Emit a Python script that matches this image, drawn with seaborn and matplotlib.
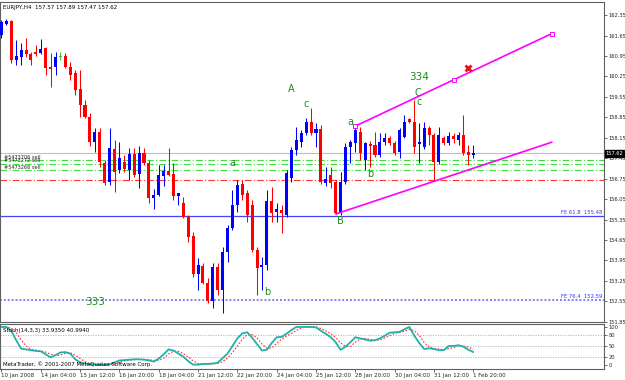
import numpy as np
import pandas as pd
import seaborn as sns
import matplotlib.pyplot as plt
import matplotlib.transforms as mtransforms

sns.set_style("white")
plt.rcParams['font.family'] = ['DejaVu Sans']

# EURJPY H4 candles, bar 0 = 10 Jan 2008 20:00, bar 96 = 1 Feb 20:00
opens = [161.67, 162.04, 162.14, 160.81, 160.91, 161.15, 161.01, 161.08, 161.05, 161.22,
         160.57, 160.57, 160.93, 160.95, 160.57, 160.36, 159.82, 159.27, 158.86, 158.00,
         158.34, 157.28, 156.63, 157.76, 157.04, 157.32, 157.04, 157.59, 156.91, 157.62,
         157.28, 156.08, 156.19, 156.84, 157.01, 156.91, 156.15, 155.91, 155.43, 154.78,
         153.48, 153.77, 153.17, 152.56, 153.72, 152.93, 154.23, 155.06, 155.84, 156.56,
         156.25, 155.84, 154.30, 153.72, 153.79, 155.98, 155.60, 155.67, 155.50, 156.77,
         157.73, 158.00, 158.31, 158.69, 158.31, 158.45, 156.60, 156.87, 156.63, 155.57,
         156.63, 157.83, 157.97, 158.34, 157.39, 157.93, 157.90, 157.56, 158.00, 158.14,
         157.97, 157.66, 158.17, 158.79, 158.69, 157.93, 157.83, 158.48, 158.24, 157.32,
         158.14, 157.97, 158.21, 158.07, 158.24, 157.66, 157.57]
highs = [162.18, 162.21, 162.18, 161.49, 161.39, 161.56, 161.08, 161.32, 161.53, 161.26,
         161.05, 161.08, 161.08, 161.05, 160.74, 160.47, 160.47, 159.44, 159.00, 158.48,
         158.48, 157.39, 158.48, 158.07, 158.00, 157.56, 157.80, 157.80, 157.86, 157.80,
         157.39, 156.39, 157.21, 157.21, 157.80, 157.28, 156.25, 156.12, 155.50, 154.92,
         154.03, 153.86, 153.34, 153.86, 153.86, 154.41, 155.16, 156.36, 156.70, 156.70,
         156.36, 156.01, 154.41, 154.06, 156.36, 156.46, 155.91, 155.84, 157.04, 157.83,
         158.52, 158.41, 158.82, 159.17, 158.65, 158.58, 157.14, 157.14, 156.70, 156.97,
         157.97, 158.07, 158.58, 158.52, 158.00, 158.04, 158.34, 158.31, 158.31, 158.21,
         158.04, 158.48, 158.93, 158.82, 159.44, 158.65, 158.69, 158.55, 158.31, 158.52,
         158.21, 158.34, 158.31, 158.34, 158.93, 157.90, 157.89]
lows = [161.56, 162.01, 160.71, 160.64, 160.64, 160.91, 160.64, 160.95, 161.01, 160.30,
        159.88, 160.30, 160.81, 160.54, 160.12, 159.61, 158.86, 158.82, 157.86, 157.66,
        157.14, 156.53, 156.53, 156.29, 156.94, 156.97, 156.70, 156.80, 156.43, 157.21,
        155.91, 155.71, 156.15, 156.50, 156.84, 156.01, 155.84, 155.40, 154.58, 153.38,
        152.93, 153.14, 152.49, 152.32, 152.76, 152.15, 153.89, 154.99, 155.60, 156.01,
        155.26, 154.23, 152.76, 152.93, 153.62, 155.26, 155.26, 154.88, 155.43, 156.63,
        157.56, 157.83, 158.24, 158.24, 157.83, 156.56, 156.50, 156.43, 155.54, 155.50,
        156.56, 157.28, 157.66, 157.39, 157.04, 157.14, 157.49, 157.49, 157.90, 157.90,
        157.56, 157.45, 158.14, 158.65, 157.62, 157.28, 157.76, 157.90, 156.70, 157.25,
        157.90, 157.90, 157.97, 157.90, 157.56, 157.21, 157.47]
closes = [162.11, 162.14, 160.81, 160.95, 161.15, 161.01, 160.81, 161.01, 161.19, 160.54,
          160.52, 160.91, 160.93, 160.57, 160.30, 159.79, 159.27, 158.86, 158.00, 158.34,
          157.32, 156.60, 157.80, 156.97, 157.45, 157.08, 157.59, 156.87, 157.62, 157.28,
          156.08, 156.19, 156.87, 157.01, 156.87, 156.15, 156.25, 155.43, 154.75, 153.48,
          153.79, 153.17, 152.56, 153.72, 152.93, 154.23, 155.06, 155.84, 156.53, 156.19,
          155.50, 154.30, 153.69, 153.79, 155.98, 155.57, 155.71, 155.57, 156.94, 157.73,
          158.07, 158.31, 158.69, 158.31, 158.45, 156.63, 156.73, 156.60, 155.57, 156.63,
          157.83, 158.00, 158.41, 157.62, 157.97, 157.86, 157.56, 158.00, 158.14, 157.97,
          157.62, 158.41, 158.69, 158.69, 157.83, 158.00, 158.48, 158.24, 157.32, 158.24,
          157.97, 158.21, 158.10, 158.24, 157.62, 157.56, 157.62]

# Stochastic(14,3,3)
stoch_main = [100, 100, 90, 65, 43, 41, 39, 37, 36, 28,
              20, 26, 33, 34, 30, 15, 7, 4, 2, 1,
              0, 0, 2, 7, 12, 13, 14, 15, 15, 14,
              12, 9, 17, 28, 41, 38, 30, 22, 10, 1,
              1, 3, 3, 4, 6, 18, 30, 50, 70, 83,
              86, 72, 55, 38, 40, 58, 73, 74, 82, 92,
              100, 100, 100, 100, 99, 90, 82, 73, 60, 40,
              48, 60, 73, 70, 67, 64, 65, 70, 77, 85,
              86, 87, 94, 100, 77, 58, 42, 44, 42, 39,
              39, 50, 50, 52, 48, 40, 33.94]
stoch_signal = [100, 100, 97, 85, 66, 50, 41, 39, 37, 34,
                28, 25, 26, 31, 32, 26, 17, 9, 4, 2,
                1, 0, 1, 3, 7, 11, 13, 14, 15, 15,
                14, 12, 13, 18, 29, 36, 36, 30, 21, 11,
                4, 2, 2, 3, 4, 9, 18, 33, 50, 68,
                80, 80, 71, 55, 44, 45, 57, 68, 76, 83,
                91, 97, 100, 100, 100, 96, 90, 82, 72, 58,
                49, 49, 60, 68, 70, 67, 65, 66, 71, 77,
                83, 86, 89, 94, 90, 78, 59, 48, 43, 42,
                40, 43, 46, 51, 50, 47, 40.99]

time_tick_bars = [0, 8, 16, 24, 32, 40, 48, 56, 64, 72, 80, 88, 96]
time_tick_labels = ['10 Jan 2008', '14 Jan 04:00', '15 Jan 12:00', '16 Jan 20:00',
                    '18 Jan 04:00', '21 Jan 12:00', '22 Jan 20:00', '24 Jan 04:00',
                    '25 Jan 12:00', '28 Jan 20:00', '30 Jan 04:00', '31 Jan 12:00',
                    '1 Feb 20:00']
price_ticks = [151.85, 152.55, 153.25, 153.95, 154.65, 155.35, 156.05, 156.75,
               157.45, 158.15, 158.85, 159.55, 160.25, 160.95, 161.65, 162.35]
stoch_ticks = [0, 20, 50, 80, 100]

bid_price = 157.62
order_levels = [157.38, 157.25, 157.04]
order_labels = ['#5473706 sell', '#5473272 sell', '#5473266 sell']
stop_level = 156.72
fe_levels = [155.48, 152.59]
fe_labels = ['FE 61.8  155.48', 'FE 76.4  152.59']

upper_x = [72, 112]
upper_y = [158.55, 161.72]
upper_marks_x = [72, 92, 112]
upper_marks_y = [158.55, 160.12, 161.72]
lower_x = [68, 112]
lower_y = [155.54, 158.00]
cross_x = [95]
cross_y = [160.53]

wave_text = ['A', 'c', 'a', '334', 'C', 'c', 'a', 'b', 'B', 'b', '333']
wave_x = [59.0, 62.0, 71.0, 85.0, 84.8, 85.0, 47.0, 75.0, 69.0, 54.0, 19.0]
wave_y = [159.82, 159.30, 158.70, 160.23, 159.68, 159.37, 157.29, 156.90, 155.30, 152.87, 152.53]
wave_size = [7, 7, 7, 7.5, 7, 7, 7, 7, 7, 7, 7.5]

df = pd.DataFrame({'open': opens, 'high': highs, 'low': lows, 'close': closes})
df['bar'] = np.arange(len(df))
df['color'] = np.where(df.close > df.open, '#0000ff',
                       np.where(df.close < df.open, '#ff0000', '#33cc33'))

fig = plt.figure(figsize=(6.25, 3.8), dpi=100)
ax = fig.add_axes([0.0, 0.1526, 0.9664, 0.8421])
ax2 = fig.add_axes([0.0, 0.0289, 0.9664, 0.1177])

# horizontal objects
ax.axhline(bid_price, color='#c0c0c0', lw=0.8, zorder=1)
for lvl in order_levels:
    ax.axhline(lvl, color='#44dd44', lw=0.8, ls=(0, (6, 2, 1, 2)), zorder=1)
ax.axhline(stop_level, color='#ff3333', lw=0.8, ls=(0, (6, 2, 1, 2)), zorder=1)
ax.axhline(fe_levels[0], color='#4444ff', lw=0.9, zorder=1)
ax.axhline(fe_levels[1], color='#8080ff', lw=1.4, ls=(0, (1, 1)), zorder=1)

# candles
body = np.maximum((df.close - df.open).abs(), 0.025)
ax.vlines(df.bar, df.low, df.high, colors=df.color, lw=0.75, zorder=2)
ax.bar(df.bar, body, bottom=np.minimum(df.open, df.close), width=0.62,
       color=df.color, lw=0, zorder=3)

# trend channel
ax.plot(upper_x, upper_y, color='#ff00ff', lw=1.2, zorder=4)
ax.plot(upper_marks_x, upper_marks_y, ls='none', marker='s', ms=2.5, mfc='white',
        mec='#ff00ff', mew=0.7, zorder=5)
ax.plot(lower_x, lower_y, color='#ff00ff', lw=1.2, zorder=4)
ax.plot(cross_x, cross_y, ls='none', marker='x', ms=5, mec='#ee1111', mew=2, zorder=6)

for t, x, y, s in zip(wave_text, wave_x, wave_y, wave_size):
    ax.text(x, y, t, color='#1e8c1e', fontsize=s, ha='center', va='center', zorder=6)

trans = mtransforms.blended_transform_factory(ax.transAxes, ax.transData)
for lvl, lab in zip(order_levels, order_labels):
    ax.text(0.006, lvl + 0.02, lab, transform=trans, fontsize=3.6, color='#222222',
            ha='left', va='bottom', zorder=6)
for lvl, lab in zip(fe_levels, fe_labels):
    ax.text(0.997, lvl + 0.03, lab, transform=trans, fontsize=3.8, color='#3333ff',
            ha='right', va='bottom', zorder=6)
ax.text(1.003, bid_price, '%.2f' % bid_price, transform=trans, fontsize=3.7,
        color='white', ha='left', va='center', clip_on=False, zorder=7,
        bbox=dict(boxstyle='square,pad=0.15', fc='black', ec='black'))

ax.set_xlim(-0.3, 122.6)
ax.set_ylim(151.84, 162.80)
ax.set_xticks([])
ax.yaxis.tick_right()
ax.set_yticks(price_ticks)
ax.set_yticklabels(['%.2f' % p for p in price_ticks])
ax.tick_params(axis='y', right=True, left=False, labelsize=3.7, length=2, width=0.6,
               pad=1, color='#555555')

fig.text(0.005, 1 - 7 / 380, 'EURJPY,H4  157.57 157.89 157.47 157.62', fontsize=4,
         color='black', ha='left', va='center')

# stochastic panel
for lvl in [20, 50, 80]:
    ax2.axhline(lvl, color='#b0b0b0', lw=0.6, ls=(0, (1.5, 1.5)), zorder=1)
sns.lineplot(x=df.bar, y=stoch_main, ax=ax2, color='#20b2aa', lw=1.3, zorder=3)
sns.lineplot(x=df.bar, y=stoch_signal, ax=ax2, color='#ff3030', lw=0.8,
             linestyle=(0, (1.5, 1.5)), zorder=2)
ax2.text(0.005, 0.87, 'Stoch(14,3,3) 33.9350 40.9940', transform=ax2.transAxes,
         fontsize=4, color='black', ha='left', va='center')
ax2.text(0.005, 0.11, 'MetaTrader, © 2001-2007 MetaQuotes Software Corp.',
         transform=ax2.transAxes, fontsize=4, color='black', ha='left', va='center')

ax2.set_xlim(-0.3, 122.6)
ax2.set_ylim(-10.5, 107)
ax2.set_xlabel('')
ax2.set_ylabel('')
ax2.yaxis.tick_right()
ax2.set_yticks(stoch_ticks)
ax2.set_yticklabels([str(v) for v in stoch_ticks])
ax2.tick_params(axis='y', right=True, left=False, labelsize=3.7, length=2, width=0.6,
                pad=1, color='#555555')
ax2.set_xticks(time_tick_bars)
ax2.set_xticklabels(time_tick_labels)
for lab in ax2.get_xticklabels():
    lab.set_horizontalalignment('left')
ax2.tick_params(axis='x', bottom=True, labelsize=4.0, length=2, width=0.6, pad=1,
                color='#555555')

for a in (ax, ax2):
    for sp in a.spines.values():
        sp.set_color('#606060')
        sp.set_linewidth(0.8)

fig.savefig('out.png', dpi=100, facecolor='white')
